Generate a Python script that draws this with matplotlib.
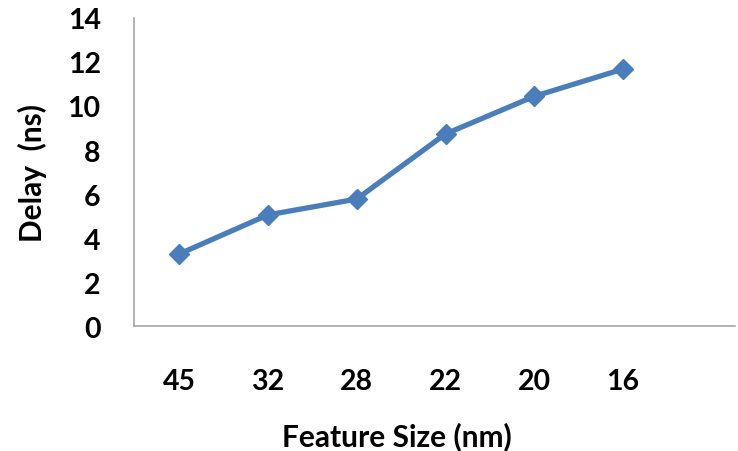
import matplotlib.pyplot as plt

feature_sizes = ["45", "32", "28", "22", "20", "16"]
delay_ns = [3.27, 5.05, 5.77, 8.73, 10.44, 11.68]
y_ticks = [0, 2, 4, 6, 8, 10, 12, 14]

plt.rcParams["font.family"] = ["Lato", "DejaVu Sans"]
plt.rcParams["font.weight"] = "bold"

fig = plt.figure(figsize=(7.38, 4.52), dpi=100)
ax = fig.add_axes([0.1816, 0.2765, 0.8144, 0.6815])

x = list(range(len(feature_sizes)))
ax.plot(x, delay_ns, color="#4a7ebb", linewidth=3.8, marker="D",
        markersize=10.5, solid_joinstyle="round")

ax.set_xlim(-0.507, 6.26)
ax.set_ylim(0, 14)
ax.set_xticks(x)
ax.set_xticklabels(feature_sizes)
ax.set_yticks(y_ticks)
ax.tick_params(axis="both", length=0, labelsize=20.5)
ax.tick_params(axis="y", pad=24)
ax.tick_params(axis="x", pad=30)

for side in ["top", "right"]:
    ax.spines[side].set_visible(False)
for side in ["left", "bottom"]:
    ax.spines[side].set_color("#a6a6a6")
    ax.spines[side].set_linewidth(1.2)

ax.set_xlabel("Feature Size (nm)", fontsize=21.5, fontweight="bold")
ax.set_ylabel("Delay  (ns)", fontsize=21.5, fontweight="bold")
# the chart was cropped on the right, so the axis titles are off-centre
ax.xaxis.set_label_coords(0.4376, -0.31)
ax.yaxis.set_label_coords(-0.145, 0.5)

fig.savefig("out.png", dpi=100)
